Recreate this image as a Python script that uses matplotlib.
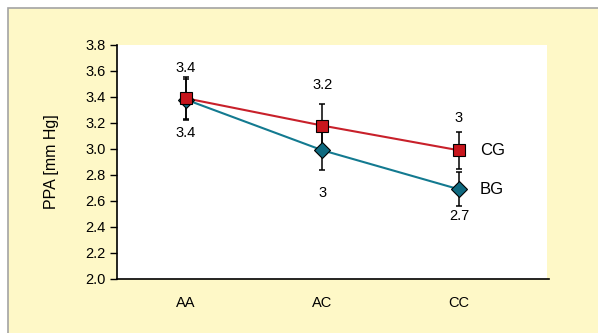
import matplotlib.pyplot as plt
from matplotlib.patches import Rectangle

plt.rcParams['font.family'] = ['Liberation Sans', 'DejaVu Sans']

groups = ['AA', 'AC', 'CC']
cg = [3.39, 3.18, 2.99]
cg_err = [0.16, 0.17, 0.14]
bg = [3.38, 2.99, 2.69]
bg_err = [0.16, 0.155, 0.13]
cg_labels = ['3.4', '3.2', '3']
bg_labels = ['3.4', '3', '2.7']

x = list(range(len(groups)))

fig = plt.figure(figsize=(5.98, 3.33), dpi=100)
fig.patch.set_facecolor('white')
# yellow panel with grey top/left border
panel = Rectangle((8 / 598, -0.05), 1.1, 1 - 8 / 333 + 0.05,
                  transform=fig.transFigure, facecolor='#fef8c7',
                  edgecolor='#a3a3a3', linewidth=1.2, zorder=-5)
fig.add_artist(panel)

ax = fig.add_axes([117 / 598, 54 / 333, 430 / 598, 234 / 333])
ax.set_facecolor('white')

ax.errorbar(x, bg, yerr=bg_err, color='black', linestyle='none',
            elinewidth=1.1, capsize=2.5, capthick=1.1, zorder=2)
ax.errorbar(x, cg, yerr=cg_err, color='black', linestyle='none',
            elinewidth=1.1, capsize=2.5, capthick=1.1, zorder=2)
ax.plot(x, bg, color='#137a90', linewidth=1.5, zorder=3)
ax.plot(x, cg, color='#c8202a', linewidth=1.5, zorder=3)
ax.plot(x, bg, linestyle='none', marker='D', markersize=8,
        markerfacecolor='#0f6a80', markeredgecolor='black', markeredgewidth=0.8, zorder=4)
ax.plot(x, cg, linestyle='none', marker='s', markersize=8.5,
        markerfacecolor='#c8161d', markeredgecolor='black', markeredgewidth=0.8, zorder=5)

# value labels
cg_off = [22, 29, 23]
bg_off = [-24, -31, -19]
for i in x:
    ax.annotate(cg_labels[i], (x[i], cg[i]), xytext=(0, cg_off[i]),
                textcoords='offset points', ha='center', va='center', fontsize=10.5)
    ax.annotate(bg_labels[i], (x[i], bg[i]), xytext=(0, bg_off[i]),
                textcoords='offset points', ha='center', va='center', fontsize=10.5)

ax.annotate('CG', (x[-1], cg[-1]), xytext=(15, 0), textcoords='offset points',
            ha='left', va='center', fontsize=12)
ax.annotate('BG', (x[-1], bg[-1]), xytext=(15, 0), textcoords='offset points',
            ha='left', va='center', fontsize=12)

ax.set_xlim(-0.505, 2.645)
ax.set_ylim(2.0, 3.8)
ax.set_yticks([2.0 + 0.2 * k for k in range(10)])
ax.set_yticklabels(['%.1f' % (2.0 + 0.2 * k) for k in range(10)])
ax.set_xticks(x)
ax.set_xticklabels(groups)
ax.tick_params(axis='y', length=5, width=1, labelsize=10.5, pad=3)
ax.tick_params(axis='x', length=0, labelsize=10.5, pad=12)
ax.spines['top'].set_visible(False)
ax.spines['right'].set_visible(False)
ax.spines['left'].set_linewidth(1.2)
ax.spines['bottom'].set_linewidth(1.2)
ax.spines['bottom'].set_bounds(-0.505, 2.66)
ax.set_ylabel('PPA [mm Hg]', fontsize=11.5, labelpad=19)

fig.savefig('out.png', dpi=100)
